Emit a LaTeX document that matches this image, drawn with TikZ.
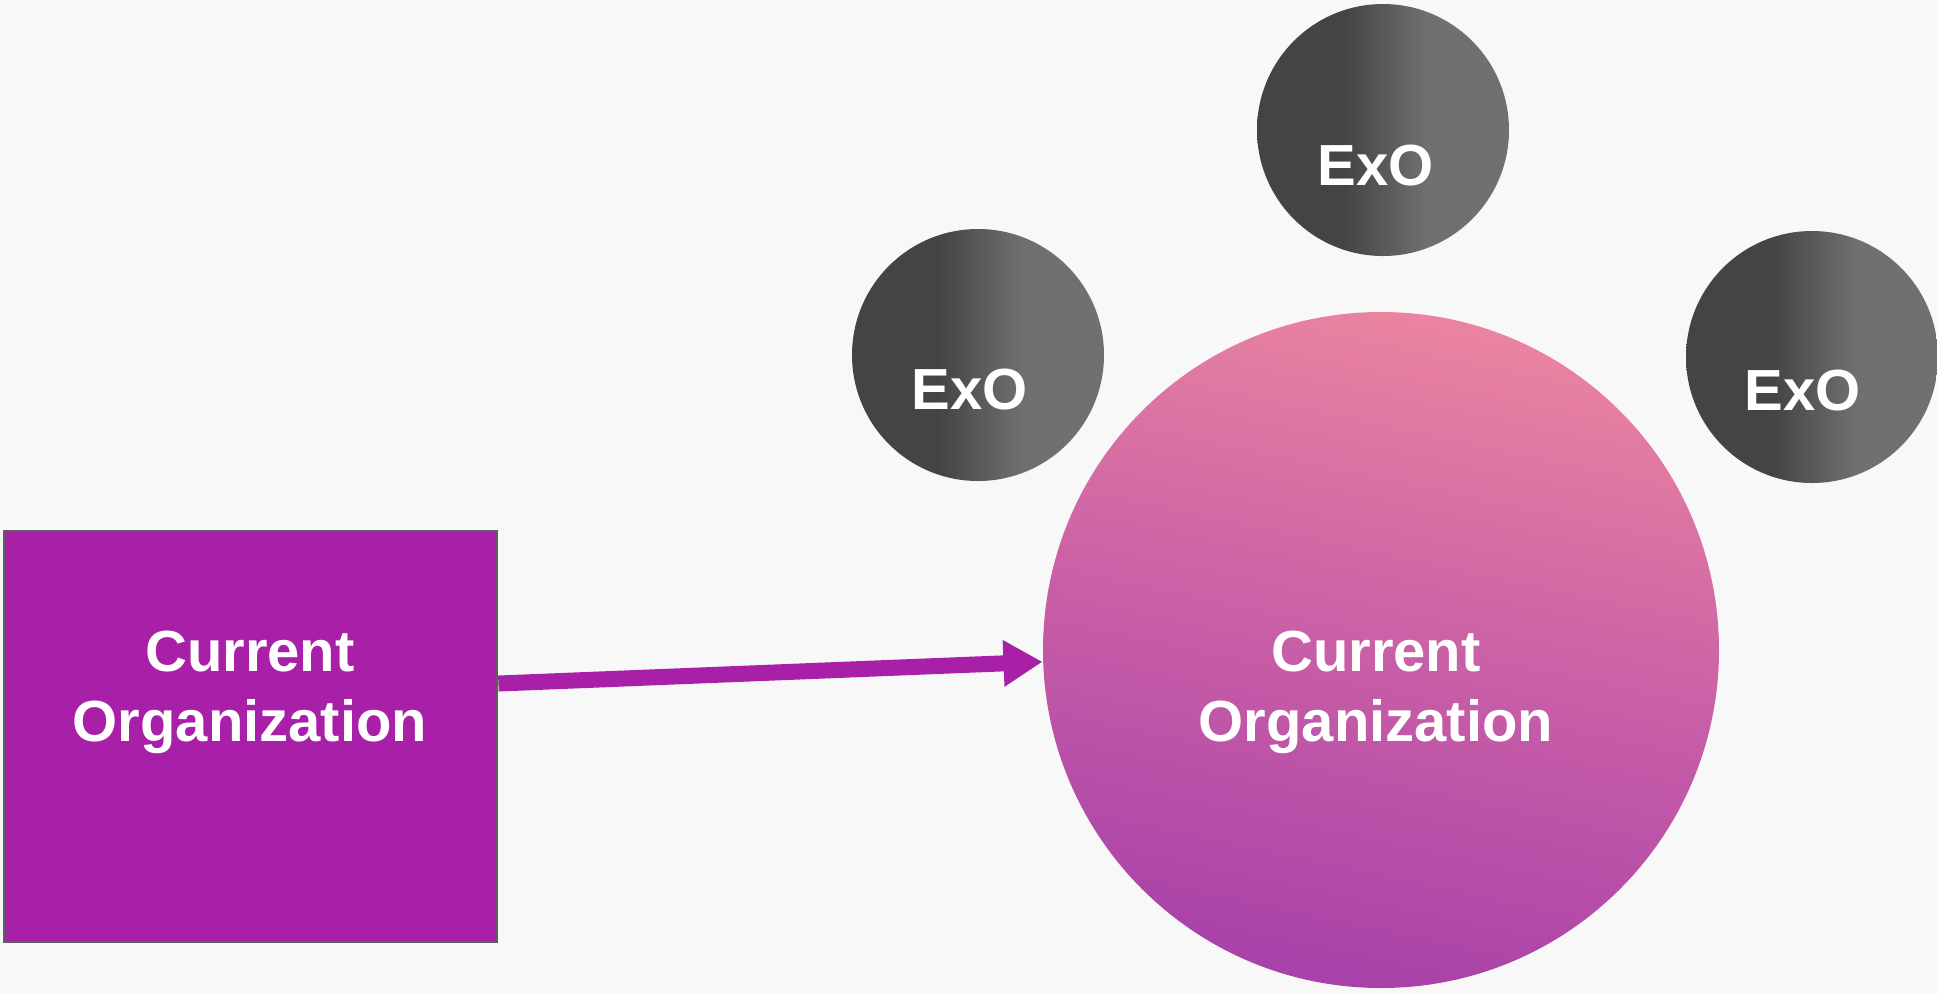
\documentclass[tikz,border=0pt]{standalone}
\usepackage{fontspec}
\setmainfont{Liberation Sans}
\usepackage{xcolor}
\usepackage{tikz}
\usetikzlibrary{arrows.meta}
\definecolor{orgpurple}{HTML}{A820A8}
\definecolor{bordergray}{HTML}{5E5E5E}
\definecolor{pagebg}{HTML}{F9F8F9}
\definecolor{exodark}{HTML}{444444}
\definecolor{exolight}{HTML}{707070}
\definecolor{orgtop}{HTML}{EA84A0}
\definecolor{orgmid}{HTML}{C95FA6}
\definecolor{orgbottom}{HTML}{A841A9}
\pgfdeclarehorizontalshading{exoshade}{100bp}{color(0bp)=(exodark); color(42bp)=(exodark); color(59bp)=(exolight); color(100bp)=(exolight)}
\pgfdeclareverticalshading{orgshade}{100bp}{color(0bp)=(orgbottom); color(25bp)=(orgbottom); color(50bp)=(orgmid); color(75bp)=(orgtop); color(100bp)=(orgtop)}

\begin{document}
\begin{tikzpicture}[x=0.1mm,y=-0.1mm,
  orgbox/.style={rectangle,fill=orgpurple,draw=bordergray,line width=0.8pt,
    minimum width=49.3mm,minimum height=41.1mm,inner sep=0pt},
  orgcircle/.style={circle,shading=orgshade,shading angle=-12,minimum size=67.6mm,inner sep=0pt},
  exo/.style={circle,shading=exoshade,minimum size=25.2mm,inner sep=0pt},
  orgtxt/.style={text=white,font=\fontsize{16.5}{19.9}\selectfont\bfseries,align=center,inner sep=0pt},
  exotxt/.style={text=white,font=\fontsize{16.5}{19}\selectfont\bfseries,inner sep=0pt},
  flow/.style={-{Triangle[length=3.9mm,width=4.4mm]},line width=1.6mm,orgpurple}]
  \fill[pagebg] (0,0) rectangle (1937,994);
  \useasboundingbox (0,0) rectangle (1937,994);
  % current organization
  \node[orgbox] (cur) at (250.5,736.5) {};
  \node[orgtxt] (curtxt) at (250,692) {Current\\Organization};
  % transformed organization with ExOs
  \node[orgcircle] (big) at (1381,650) {};
  \node[orgtxt] (bigtxt) at (1376,692) {Current\\Organization};
  \node[exo] (exoa) at (978,355) {};
  \node[exo] (exob) at (1383,130) {};
  \node[exo] (exoc) at (1812,357) {};
  \node[exotxt] (exoatxt) at (970,390) {ExO};
  \node[exotxt] (exobtxt) at (1376,166) {ExO};
  \node[exotxt] (exoctxt) at (1803,391) {ExO};
  \draw[flow] ([yshift=5.3mm]cur.east) -- (big.182.5);
\end{tikzpicture}
\end{document}
